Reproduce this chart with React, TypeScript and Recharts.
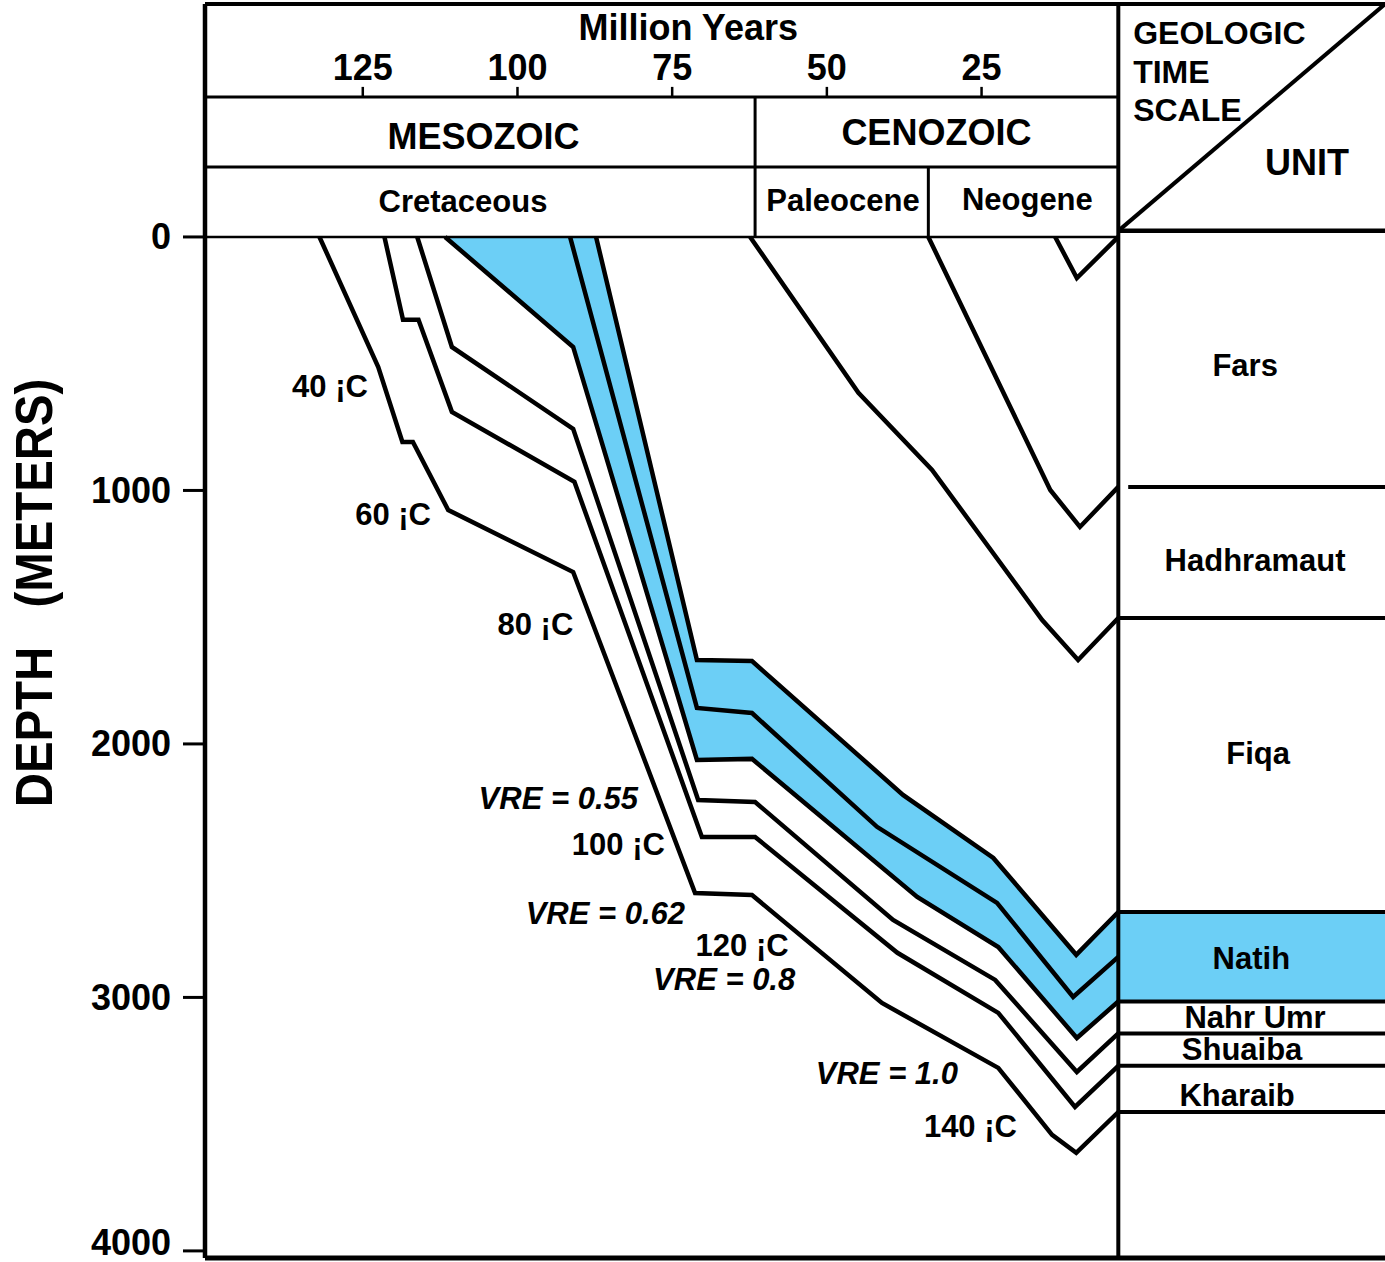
import { ComposedChart, Line, Area, Scatter, XAxis, YAxis } from 'recharts';

const FONT = '"Liberation Sans", Arial, Helvetica, sans-serif';
const BLUE = '#6ccff6';
const CHART_W = 1385;
const CHART_H = 1262;

// axis extents: age in Ma (plotted right to left), depth in m (down)
const AGE_MAX = 150.5;
const AGE_MIN = -40.2;
const PRESENT = 2.9; // edge of the unit column
const DEPTH_TOP = -919;
const DEPTH_BOTTOM = 4028;
const ROW1 = -552;
const ROW2 = -276;
const UNIT_HEAD = -24;
const ERA_BOUNDARY = 61.6;
const EPOCH_BOUNDARY = 33.6;

const ageTicks = [125, 100, 75, 50, 25];
const depthTicks = [0, 1000, 2000, 3000, 4000];

// burial curves (age Ma, depth m), oldest horizon first
const horizon1 = [
  { a: 132.0, d: 0 }, { a: 122.5, d: 513 }, { a: 118.6, d: 809 }, { a: 116.9, d: 809 },
  { a: 111.2, d: 1077 }, { a: 91.0, d: 1322 }, { a: 71.3, d: 2588 }, { a: 62.1, d: 2596 },
  { a: 41.1, d: 3022 }, { a: 22.3, d: 3278 }, { a: 13.6, d: 3542 }, { a: 9.7, d: 3613 },
  { a: 2.9, d: 3452 },
];
const horizon2 = [
  { a: 121.5, d: 0 }, { a: 118.5, d: 327 }, { a: 116.0, d: 327 }, { a: 110.6, d: 690 },
  { a: 90.8, d: 966 }, { a: 70.2, d: 2367 }, { a: 61.6, d: 2367 }, { a: 38.6, d: 2824 },
  { a: 22.3, d: 3061 }, { a: 9.9, d: 3432 }, { a: 2.9, d: 3270 },
];
const horizon3 = [
  { a: 116.2, d: 0 }, { a: 110.6, d: 434 }, { a: 91.0, d: 757 }, { a: 70.8, d: 2221 },
  { a: 61.6, d: 2229 }, { a: 39.3, d: 2694 }, { a: 22.8, d: 2931 }, { a: 9.6, d: 3294 },
  { a: 2.9, d: 3142 },
];
const horizon4 = [
  { a: 111.7, d: 0 }, { a: 91.0, d: 434 }, { a: 71.0, d: 2063 }, { a: 62.1, d: 2059 },
  { a: 35.4, d: 2604 }, { a: 22.3, d: 2801 }, { a: 9.6, d: 3160 }, { a: 2.9, d: 3016 },
];
const horizon5 = [
  { a: 91.5, d: 0 }, { a: 71.0, d: 1858 }, { a: 62.1, d: 1878 }, { a: 41.9, d: 2327 },
  { a: 22.5, d: 2627 }, { a: 10.2, d: 2998 }, { a: 2.9, d: 2840 },
];
const horizon6 = [
  { a: 87.3, d: 0 }, { a: 71.0, d: 1669 }, { a: 62.1, d: 1673 }, { a: 37.7, d: 2201 },
  { a: 23.1, d: 2450 }, { a: 9.7, d: 2832 }, { a: 2.9, d: 2663 },
];
const horizon7 = [
  { a: 62.4, d: 0 }, { a: 44.9, d: 615 }, { a: 33.0, d: 919 }, { a: 15.2, d: 1511 },
  { a: 9.4, d: 1669 }, { a: 2.9, d: 1503 },
];
const horizon8 = [{ a: 33.6, d: 0 }, { a: 13.9, d: 998 }, { a: 9.1, d: 1144 }, { a: 2.9, d: 986 }];
const horizon9 = [{ a: 13.1, d: 0 }, { a: 9.6, d: 162 }, { a: 2.9, d: 0 }];

const horizons = [horizon1, horizon2, horizon3, horizon4, horizon5, horizon6, horizon7, horizon8, horizon9];

// Natih interval (top / base) shaded blue
const natihBand = [
  { a: 111.7, top: 0, bottom: 0 },
  { a: 91.0, top: 0, bottom: 434 },
  { a: 87.3, top: 0, bottom: 735 },
  { a: 71.0, top: 1669, bottom: 2063 },
  { a: 62.1, top: 1673, bottom: 2059 },
  { a: 37.7, top: 2201, bottom: 2557 },
  { a: 35.4, top: 2240, bottom: 2604 },
  { a: 23.1, top: 2450, bottom: 2789 },
  { a: 22.3, top: 2473, bottom: 2801 },
  { a: 9.6, top: 2832, bottom: 3160 },
  { a: 2.9, top: 2663, bottom: 3016 },
  { a: -40.2, top: 2663, bottom: 3016 },
];

const unitNames = ['Fars', 'Hadhramaut', 'Fiqa', 'Natih', 'Nahr Umr', 'Shuaiba', 'Kharaib'];
const unitBaseDepths = [986, 1503, 2663, 3016, 3142, 3270, 3452];
const unitLabelAges = [-17.6, -19.2, -19.7, -18.6, -19.2, -17.1, -16.3];
const unitLabelDepths = [509, 1278, 2036, 2848, 3081, 3207, 3385];

const eras = [
  { text: 'MESOZOIC', a: 105.5, d: -398 },
  { text: 'CENOZOIC', a: 32.3, d: -414 },
];
const periods = [
  { text: 'Cretaceous', a: 108.8, d: -138 },
  { text: 'Paleocene', a: 47.4, d: -142 },
  { text: 'Neogene', a: 17.6, d: -146 },
];
const corner = [
  { text: 'GEOLOGIC', a: 0.5, d: -805 },
  { text: 'TIME', a: 0.5, d: -651 },
  { text: 'SCALE', a: 0.5, d: -501 },
];

const tempLabels = [
  { text: '40 ¡C', a: 130.3, d: 588 },
  { text: '60 ¡C', a: 120.1, d: 1093 },
  { text: '80 ¡C', a: 97.1, d: 1527 },
  { text: '100 ¡C', a: 83.7, d: 2398 },
  { text: '120 ¡C', a: 63.7, d: 2797 },
  { text: '140 ¡C', a: 26.8, d: 3511 },
];
const vreLabels = [
  { text: 'VRE = 0.55', a: 93.4, d: 2217 },
  { text: 'VRE = 0.62', a: 85.8, d: 2667 },
  { text: 'VRE = 0.8', a: 66.6, d: 2931 },
  { text: 'VRE = 1.0', a: 40.3, d: 3302 },
];

const seg = (a1: number, d1: number, a2: number, d2: number) => [
  { a: a1, d: d1 },
  { a: a2, d: d2 },
];

const makeText = (size: number, italic = false, anchor = 'middle') => (props: any) => {
  const { cx, cy, payload } = props;
  return (
    <text
      x={cx}
      y={cy}
      textAnchor={anchor}
      dominantBaseline="central"
      fontFamily={FONT}
      fontWeight={700}
      fontSize={size}
      fontStyle={italic ? 'italic' : 'normal'}
      fill="#000"
    >
      {payload.text}
    </text>
  );
};

// keep the bottom tick label inside the picture
const DepthTick = (props: any) => {
  const { x, y, payload } = props;
  return (
    <text
      x={x}
      y={Math.min(y, CHART_H - 20)}
      textAnchor="end"
      dominantBaseline="central"
      fontFamily={FONT}
      fontWeight={700}
      fontSize={36}
      fill="#000"
    >
      {payload.value}
    </text>
  );
};

const DepthLabel = (props: any) => {
  const vb = props.viewBox ?? { x: 0, y: 4, width: 205, height: 1254 };
  const cx = vb.x + 34;
  const cy = vb.y + vb.height / 2 - 38;
  return (
    <text
      transform={`translate(${cx},${cy}) rotate(-90) scale(0.91,1)`}
      textAnchor="middle"
      dominantBaseline="central"
      fontFamily={FONT}
      fontWeight={700}
      fontSize={52}
      fill="#000"
      style={{ whiteSpace: 'pre' }}
    >
      {'DEPTH   (METERS)'}
    </text>
  );
};

const App = () => {
  const frame = [
    { data: seg(AGE_MAX, DEPTH_TOP, AGE_MIN, DEPTH_TOP), w: 4 },
    { data: seg(AGE_MAX, DEPTH_BOTTOM, AGE_MIN, DEPTH_BOTTOM), w: 5 },
    { data: seg(PRESENT, DEPTH_TOP, PRESENT, DEPTH_BOTTOM), w: 4 },
    { data: seg(PRESENT, UNIT_HEAD, AGE_MIN, DEPTH_TOP), w: 4 },
    { data: seg(PRESENT, UNIT_HEAD, AGE_MIN, UNIT_HEAD), w: 4.5 },
    { data: seg(AGE_MAX, ROW1, PRESENT, ROW1), w: 3 },
    { data: seg(AGE_MAX, ROW2, PRESENT, ROW2), w: 3 },
    { data: seg(AGE_MAX, 0, PRESENT, 0), w: 2.5 },
    { data: seg(ERA_BOUNDARY, ROW1, ERA_BOUNDARY, 0), w: 3 },
    { data: seg(EPOCH_BOUNDARY, ROW2, EPOCH_BOUNDARY, 0), w: 3 },
    ...ageTicks.map((t) => ({ data: seg(t, ROW1 - 40, t, ROW1), w: 2.5 })),
    ...unitBaseDepths.map((d, i) => ({ data: seg(i === 0 ? 1.3 : PRESENT, d, AGE_MIN, d), w: 4 })),
  ];

  const unitLabels = unitNames.map((name, i) => ({ text: name, a: unitLabelAges[i], d: unitLabelDepths[i] }));
  const tickLabels = ageTicks.map((t) => ({ text: String(t), a: t, d: -667 }));
  const bigHeads = [
    { text: 'Million Years', a: 72.4, d: -828 },
    ...eras,
    { text: 'UNIT', a: -27.6, d: -292 },
  ];

  return (
    <div style={{ position: 'absolute', left: 0, top: 0, background: '#fff' }}>
      <ComposedChart width={CHART_W} height={CHART_H} margin={{ top: 4, right: 0, bottom: 4, left: 0 }}>
        <XAxis type="number" dataKey="a" domain={[AGE_MIN, AGE_MAX]} reversed hide />
        <YAxis
          type="number"
          dataKey="d"
          domain={[DEPTH_TOP, DEPTH_BOTTOM]}
          reversed
          ticks={depthTicks}
          interval={0}
          width={205}
          tickSize={22}
          tickMargin={12}
          axisLine={{ stroke: '#000', strokeWidth: 4.5 }}
          tickLine={{ stroke: '#000', strokeWidth: 3 }}
          tick={DepthTick}
          label={{ content: DepthLabel }}
        />
        <Area
          data={natihBand}
          dataKey={(p: any) => [p.top, p.bottom]}
          type="linear"
          stroke="none"
          fill={BLUE}
          fillOpacity={1}
          isAnimationActive={false}
        />
        {frame.map((f, i) => (
          <Line
            key={`frame-${i}`}
            data={f.data}
            dataKey="d"
            type="linear"
            stroke="#000"
            strokeWidth={f.w}
            dot={false}
            activeDot={false}
            isAnimationActive={false}
          />
        ))}
        {horizons.map((h, i) => (
          <Line
            key={`hz-${i}`}
            data={h}
            dataKey="d"
            type="linear"
            stroke="#000"
            strokeWidth={4.5}
            dot={false}
            activeDot={false}
            isAnimationActive={false}
          />
        ))}
        <Scatter data={bigHeads} dataKey="d" shape={makeText(36)} isAnimationActive={false} />
        <Scatter data={tickLabels} dataKey="d" shape={makeText(36)} isAnimationActive={false} />
        <Scatter data={periods} dataKey="d" shape={makeText(31)} isAnimationActive={false} />
        <Scatter data={corner} dataKey="d" shape={makeText(32, false, 'start')} isAnimationActive={false} />
        <Scatter data={unitLabels} dataKey="d" shape={makeText(31)} isAnimationActive={false} />
        <Scatter data={tempLabels} dataKey="d" shape={makeText(31)} isAnimationActive={false} />
        <Scatter data={vreLabels} dataKey="d" shape={makeText(31, true)} isAnimationActive={false} />
      </ComposedChart>
    </div>
  );
};

export default App;
